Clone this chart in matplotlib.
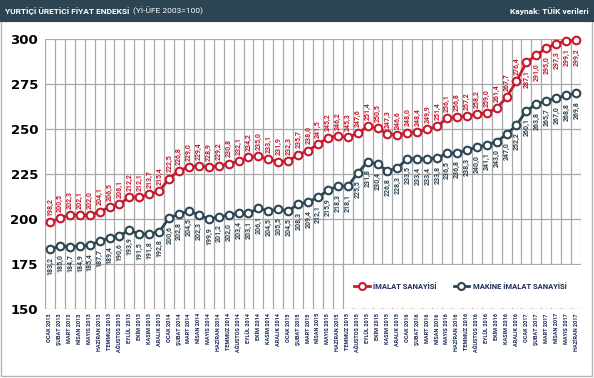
import matplotlib
matplotlib.use("Agg")
import matplotlib.pyplot as plt
from matplotlib.patches import Rectangle
from matplotlib.lines import Line2D

RED = "#c8192e"
DARK = "#2d4654"
NAVY = "#1c2a55"
FONT = ["Roboto", "DejaVu Sans"]

aylar = ["OCAK", "ŞUBAT", "MART", "NİSAN", "MAYIS", "HAZİRAN", "TEMMUZ",
         "AĞUSTOS", "EYLÜL", "EKİM", "KASIM", "ARALIK"]
yillar = [2013, 2014, 2015, 2016, 2017]
etiketler = [f"{a} {y}" for y in yillar for a in aylar][:54]

imalat = [198.2, 200.5, 202.3, 202.1, 202.0, 204.1, 206.5, 208.1, 212.2, 212.1, 213.7, 215.4,
          222.5, 226.8, 229.0, 229.4, 228.9, 229.2, 230.8, 232.1, 234.2, 235.0, 233.1, 231.9,
          232.3, 235.7, 238.0, 241.5, 245.2, 246.2, 245.3, 247.6, 251.4, 250.5, 247.3, 246.6,
          248.0, 248.4, 249.9, 251.4, 256.1, 256.8, 257.2, 258.2, 259.0, 261.4, 267.7, 276.4,
          287.1, 291.0, 295.0, 297.3, 299.1, 299.2]
makine = [183.2, 185.0, 184.7, 184.9, 185.4, 187.7, 189.4, 190.6, 193.9, 191.5, 191.8, 192.8,
          200.6, 202.8, 204.5, 202.3, 199.9, 201.2, 202.0, 203.4, 203.1, 206.1, 204.5, 205.5,
          204.5, 208.3, 209.4, 212.1, 215.9, 218.3, 218.1, 225.5, 231.8, 230.4, 226.8, 228.3,
          233.5, 233.4, 233.4, 233.8, 236.5, 236.8, 238.3, 240.0, 241.1, 243.0, 247.0, 252.2,
          260.1, 263.8, 265.7, 267.0, 268.8, 269.8]

fig = plt.figure(figsize=(5.94, 3.78), dpi=100)

# header bar and outer frame
fig.patches.append(Rectangle((0.002, 0.005), 0.995, 0.94, transform=fig.transFigure,
                             fill=False, edgecolor="#b5b5b5", lw=1))
fig.patches.append(Rectangle((0, 1 - 22 / 378), 1, 22 / 378, transform=fig.transFigure,
                             facecolor="#2b4552", edgecolor="none"))
t1 = fig.text(0.009, 1 - 11 / 378, "YURTİÇİ ÜRETİCİ FİYAT ENDEKSİ", color="white", fontsize=6,
              fontweight="bold", va="center", family=FONT, zorder=3)
fig.text(0.992, 1 - 11 / 378, "Kaynak: TÜİK verileri", color="white", fontsize=6,
         fontweight="bold", va="center", ha="right", family=FONT, zorder=3)
fig.canvas.draw()
bb = t1.get_window_extent()
fig.text((bb.x1 + 3) / fig.bbox.width, 1 - 11 / 378, "(Yİ-ÜFE 2003=100)", color="white",
         fontsize=6, va="center", family=FONT, zorder=3)

ax = fig.add_axes([45 / 594, 1 - 309 / 378, 536 / 594, 270 / 378])
x = list(range(len(imalat)))

ax.plot(x, imalat, color=RED, lw=2, marker="o", ms=5.5, mfc="white", mew=1.5,
        clip_on=False, zorder=4)
ax.plot(x, makine, color=DARK, lw=2, marker="o", ms=5.5, mfc="white", mew=1.5,
        clip_on=False, zorder=4)

for i, v in enumerate(imalat):
    # from the steep rise on, the reference puts the red labels under the points
    ust = i < 48
    ax.annotate(f"{v:.1f}".replace(".", ","), (i, v), xytext=(0, 4.5 if ust else -5.5),
                textcoords="offset points", rotation=90, ha="center",
                va="bottom" if ust else "top", fontsize=5, fontweight="bold",
                color=RED, family=FONT, zorder=5)
for i, v in enumerate(makine):
    ax.annotate(f"{v:.1f}".replace(".", ","), (i, v), xytext=(0, -5.5), textcoords="offset points",
                rotation=90, ha="center", va="top", fontsize=5, fontweight="bold",
                color=DARK, family=FONT, zorder=5)

ax.set_xlim(-0.5, len(imalat) - 0.5)
ax.set_ylim(150, 300)
ax.set_yticks([150, 175, 200, 225, 250, 275, 300])
ax.set_xticks(x)
ax.set_xticklabels(etiketler, rotation=90, fontsize=4.0, fontweight="bold", color=NAVY,
                   family=FONT)
for t in ax.get_yticklabels():
    t.set_fontweight("bold")
    t.set_fontsize(9.5)
ax.tick_params(axis="both", length=0)
ax.tick_params(axis="x", pad=3)
ax.tick_params(axis="y", pad=5)
ax.set_xticks([i - 0.5 for i in range(len(imalat) + 1)], minor=True)
ax.grid(which="minor", axis="x", color="#a8a8a8", lw=0.9)
ax.grid(which="major", axis="y", color="#a8a8a8", lw=0.9)
ax.tick_params(which="minor", length=0)
for s in ax.spines.values():
    s.set_visible(False)

# legend panel covering the grid
ax.add_patch(Rectangle((29.8, 150.3), 24, 24.4, facecolor="white", edgecolor="none", zorder=3))
handles = [Line2D([], [], color=RED, lw=2, marker="o", ms=5, mfc="white", mew=1.5),
           Line2D([], [], color=DARK, lw=2, marker="o", ms=5, mfc="white", mew=1.5)]
leg = ax.legend(handles, ["İMALAT SANAYİSİ", "MAKİNE İMALAT SANAYİSİ"], loc="center",
                bbox_to_anchor=(0.775, 0.085), ncol=2, frameon=False, columnspacing=2.2,
                handlelength=2.0, handletextpad=0.5,
                prop={"family": FONT, "weight": "bold", "size": 5.5})
for t in leg.get_texts():
    t.set_color(NAVY)
leg.set_zorder(6)

fig.savefig("out.png", dpi=100)
